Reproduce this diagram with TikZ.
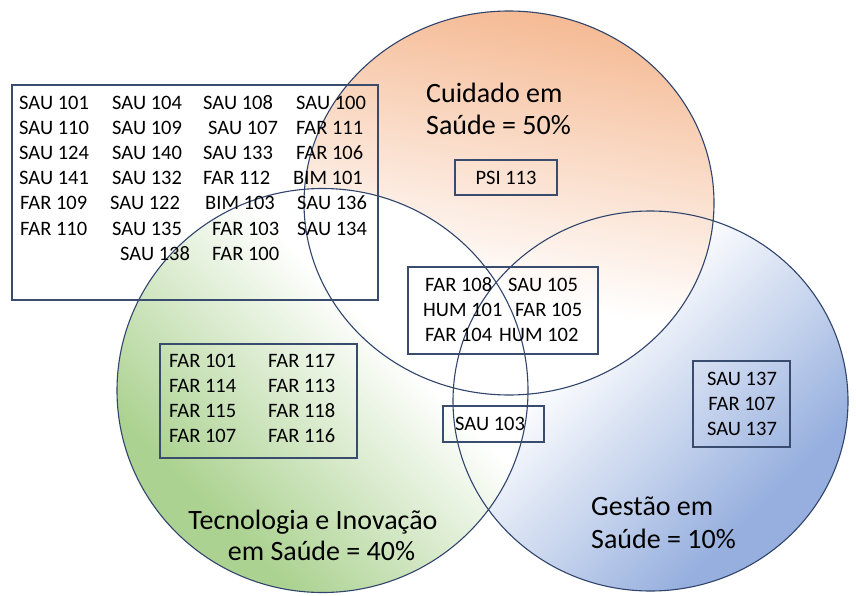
\documentclass[tikz,border=0pt]{standalone}
\usepackage{fontspec}
\setmainfont{Carlito}
\definecolor{orangeC}{RGB}{245,186,148}
\definecolor{greenC}{RGB}{172,210,145}
\definecolor{blueC}{RGB}{150,175,222}
\definecolor{lineC}{RGB}{48,68,108}
\definecolor{boxC}{RGB}{58,76,110}
\pgfdeclareverticalshading{orangefade}{100bp}{color(0bp)=(white); color(38bp)=(white); color(75bp)=(orangeC); color(100bp)=(orangeC)}
\pgfdeclareverticalshading{greenfade}{100bp}{color(0bp)=(white); color(40bp)=(white); color(70bp)=(greenC); color(100bp)=(greenC)}
\pgfdeclareverticalshading{bluefade}{100bp}{color(0bp)=(white); color(38bp)=(white); color(70bp)=(blueC); color(100bp)=(blueC)}
\begin{document}
\begin{tikzpicture}[x=1pt,y=-1pt,
  item/.style={font=\fontsize{20.5}{24}\selectfont, inner sep=0pt, anchor=base west},
  itemc/.style={font=\fontsize{20.5}{24}\selectfont, inner sep=0pt, anchor=base},
  biglabel/.style={font=\fontsize{28}{32}\selectfont, inner sep=0pt, anchor=base west},
  biglabelc/.style={font=\fontsize{28}{32}\selectfont, inner sep=0pt, anchor=base},
  listbox/.style={draw=boxC, line width=1.2pt, inner sep=0pt},
  ring/.style={draw=lineC, line width=1.1pt}]
\useasboundingbox (0,0) rectangle (856,596);
\fill[white] (0,0) rectangle (856,596);
% circle fills (blue below orange below green)
\path[shading=bluefade, shading angle=-135] (650.5,401) ellipse [x radius=197.5pt, y radius=190pt];
\path[shading=orangefade, shading angle=-10] (509,203) ellipse [x radius=205pt, y radius=192pt];
\path[shading=greenfade, shading angle=135] (322.5,390.5) ellipse [x radius=205.5pt, y radius=202pt];
% outlines
\draw[ring] (509,203) ellipse [x radius=205pt, y radius=192pt];
\draw[ring] (322.5,390.5) ellipse [x radius=205.5pt, y radius=202pt];
\draw[ring] (650.5,401) ellipse [x radius=197.5pt, y radius=190pt];
% boxes
\node[listbox, minimum width=366pt, minimum height=215pt] (boxL) at (195,192.5) {};
\node[listbox, minimum width=102pt, minimum height=35pt] (boxP) at (506,177.5) {};
\node[listbox, minimum width=190pt, minimum height=87pt] (boxC) at (503,310.5) {};
\node[listbox, minimum width=101pt, minimum height=36pt] (boxS) at (493.5,424) {};
\node[listbox, minimum width=197pt, minimum height=114pt] (boxG) at (258.5,401) {};
\node[listbox, minimum width=97pt, minimum height=86pt] (boxB) at (741.5,404) {};
% left box list
\foreach \px/\r/\t [count=\i] in {
  19/0/SAU 101, 112/0/SAU 104, 203/0/SAU 108, 296/0/SAU 100,
  19/1/SAU 110, 112/1/SAU 109, 208/1/SAU 107, 296/1/FAR 111,
  19/2/SAU 124, 112/2/SAU 140, 203/2/SAU 133, 296/2/FAR 106,
  19/3/SAU 141, 112/3/SAU 132, 203/3/FAR 112, 293/3/BIM 101,
  20/4/FAR 109, 110/4/SAU 122, 205/4/BIM 103, 297/4/SAU 136,
  20/5/FAR 110, 112/5/SAU 135, 212/5/FAR 103, 297/5/SAU 134,
  120/6/SAU 138, 212/6/FAR 100}
  \node[item] (L\i) at ({\px},{109.3+25.15*\r}) {\t};
% PSI
\node[itemc] (psi) at (506,185) {PSI 113};
% centre box
\node[item] (c1) at (425,291.7) {FAR 108};
\node[item] (c2) at (508,291.7) {SAU 105};
\node[item] (c3) at (423,316.7) {HUM 101};
\node[item] (c4) at (515,316.7) {FAR 105};
\node[item] (c5) at (425,341.7) {FAR 104};
\node[item] (c6) at (499,341.7) {HUM 102};
% SAU 103
\node[item] (s1) at (455,430) {SAU 103};
% green box
\foreach \px/\r/\t [count=\i] in {
  169/0/FAR 101, 268/0/FAR 117,
  169/1/FAR 114, 268/1/FAR 113,
  169/2/FAR 115, 268/2/FAR 118,
  169/3/FAR 107, 268/3/FAR 116}
  \node[item] (G\i) at ({\px},{367.3+25.1*\r}) {\t};
% blue box
\node[itemc] (b1) at (742,385) {SAU 137};
\node[itemc] (b2) at (742,410) {FAR 107};
\node[itemc] (b3) at (742,435) {SAU 137};
% labels
\node[biglabel] (cu1) at (426,102.7) {Cuidado em};
\node[biglabel] (cu2) at (426,135) {Saúde = 50\%};
\node[biglabelc] (te1) at (313,529) {Tecnologia e Inovação};
\node[biglabelc] (te2) at (321.5,560) {em Saúde = 40\%};
\node[biglabel] (ge1) at (591,515) {Gestão em};
\node[biglabel] (ge2) at (591,548) {Saúde = 10\%};
\end{tikzpicture}
\end{document}
